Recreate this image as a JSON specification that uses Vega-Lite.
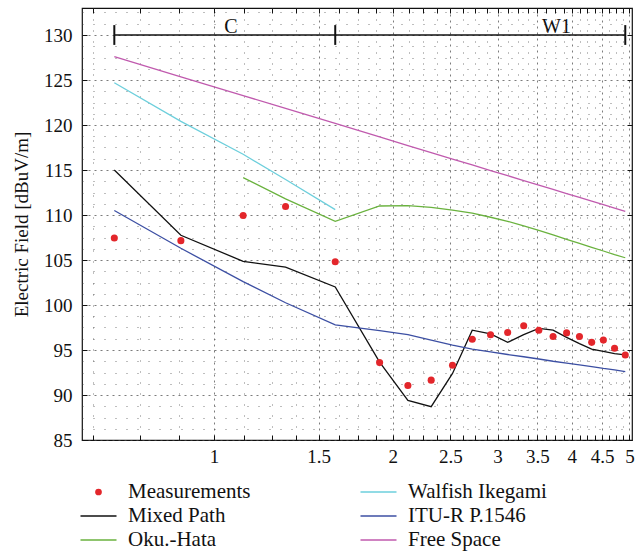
{
  "$schema": "https://vega.github.io/schema/vega-lite/v6.json",
  "width": 550,
  "height": 432,
  "autosize": {"type": "none"},
  "padding": {"left": 82, "top": 8, "right": 12, "bottom": 112},
  "background": "white",
  "datasets": {
    "bar": [{"x": 0.68, "x2": 4.92, "y": 130}],
    "caps": [{"x": 0.68, "y": 128.9, "y2": 131.1}, {"x": 1.6, "y": 128.9, "y2": 131.1}, {"x": 4.92, "y": 128.9, "y2": 131.1}],
    "zones": [{"x": 1.068, "y": 130.25, "t": "C"}, {"x": 3.77, "y": 130.25, "t": "W1"}],
    "d": [
      {"s": "Measurements", "x": 0.68, "y": 107.45},
      {"s": "Measurements", "x": 0.88, "y": 107.15},
      {"s": "Measurements", "x": 1.12, "y": 109.95},
      {"s": "Measurements", "x": 1.32, "y": 110.95},
      {"s": "Measurements", "x": 1.6, "y": 104.8},
      {"s": "Measurements", "x": 1.9, "y": 93.6},
      {"s": "Measurements", "x": 2.12, "y": 91.05},
      {"s": "Measurements", "x": 2.32, "y": 91.65},
      {"s": "Measurements", "x": 2.52, "y": 93.3},
      {"s": "Measurements", "x": 2.72, "y": 96.2},
      {"s": "Measurements", "x": 2.92, "y": 96.7},
      {"s": "Measurements", "x": 3.12, "y": 96.95},
      {"s": "Measurements", "x": 3.32, "y": 97.7},
      {"s": "Measurements", "x": 3.52, "y": 97.2},
      {"s": "Measurements", "x": 3.72, "y": 96.5},
      {"s": "Measurements", "x": 3.92, "y": 96.9},
      {"s": "Measurements", "x": 4.12, "y": 96.5},
      {"s": "Measurements", "x": 4.32, "y": 95.85},
      {"s": "Measurements", "x": 4.52, "y": 96.1},
      {"s": "Measurements", "x": 4.72, "y": 95.2},
      {"s": "Measurements", "x": 4.92, "y": 94.45},
      {"s": "Mixed Path", "x": 0.68, "y": 115.0},
      {"s": "Mixed Path", "x": 0.88, "y": 107.75},
      {"s": "Mixed Path", "x": 1.12, "y": 104.85},
      {"s": "Mixed Path", "x": 1.32, "y": 104.2},
      {"s": "Mixed Path", "x": 1.6, "y": 102.0},
      {"s": "Mixed Path", "x": 1.9, "y": 93.65},
      {"s": "Mixed Path", "x": 2.12, "y": 89.4},
      {"s": "Mixed Path", "x": 2.32, "y": 88.7},
      {"s": "Mixed Path", "x": 2.52, "y": 92.4},
      {"s": "Mixed Path", "x": 2.72, "y": 97.2},
      {"s": "Mixed Path", "x": 2.92, "y": 96.8},
      {"s": "Mixed Path", "x": 3.12, "y": 95.85},
      {"s": "Mixed Path", "x": 3.32, "y": 96.7},
      {"s": "Mixed Path", "x": 3.52, "y": 97.4},
      {"s": "Mixed Path", "x": 3.72, "y": 97.2},
      {"s": "Mixed Path", "x": 3.92, "y": 96.4},
      {"s": "Mixed Path", "x": 4.12, "y": 95.7},
      {"s": "Mixed Path", "x": 4.32, "y": 95.1},
      {"s": "Mixed Path", "x": 4.52, "y": 94.85},
      {"s": "Mixed Path", "x": 4.72, "y": 94.6},
      {"s": "Mixed Path", "x": 4.92, "y": 94.45},
      {"s": "ITU-R P.1546", "x": 0.68, "y": 110.5},
      {"s": "ITU-R P.1546", "x": 0.88, "y": 106.3},
      {"s": "ITU-R P.1546", "x": 1.12, "y": 102.6},
      {"s": "ITU-R P.1546", "x": 1.32, "y": 100.25},
      {"s": "ITU-R P.1546", "x": 1.6, "y": 97.8},
      {"s": "ITU-R P.1546", "x": 1.9, "y": 97.15},
      {"s": "ITU-R P.1546", "x": 2.12, "y": 96.7},
      {"s": "ITU-R P.1546", "x": 2.32, "y": 96.1},
      {"s": "ITU-R P.1546", "x": 2.52, "y": 95.55},
      {"s": "ITU-R P.1546", "x": 2.72, "y": 95.1},
      {"s": "ITU-R P.1546", "x": 2.92, "y": 94.8},
      {"s": "ITU-R P.1546", "x": 3.12, "y": 94.5},
      {"s": "ITU-R P.1546", "x": 3.32, "y": 94.25},
      {"s": "ITU-R P.1546", "x": 3.52, "y": 94.0},
      {"s": "ITU-R P.1546", "x": 3.72, "y": 93.75},
      {"s": "ITU-R P.1546", "x": 3.92, "y": 93.55},
      {"s": "ITU-R P.1546", "x": 4.12, "y": 93.35},
      {"s": "ITU-R P.1546", "x": 4.32, "y": 93.15},
      {"s": "ITU-R P.1546", "x": 4.52, "y": 92.95},
      {"s": "ITU-R P.1546", "x": 4.72, "y": 92.8},
      {"s": "ITU-R P.1546", "x": 4.92, "y": 92.6},
      {"s": "Oku.-Hata", "x": 1.12, "y": 114.15},
      {"s": "Oku.-Hata", "x": 1.32, "y": 111.8},
      {"s": "Oku.-Hata", "x": 1.6, "y": 109.3},
      {"s": "Oku.-Hata", "x": 1.9, "y": 111.0},
      {"s": "Oku.-Hata", "x": 2.12, "y": 111.05},
      {"s": "Oku.-Hata", "x": 2.32, "y": 110.85},
      {"s": "Oku.-Hata", "x": 2.52, "y": 110.55},
      {"s": "Oku.-Hata", "x": 2.72, "y": 110.2},
      {"s": "Oku.-Hata", "x": 2.92, "y": 109.75},
      {"s": "Oku.-Hata", "x": 3.12, "y": 109.3},
      {"s": "Oku.-Hata", "x": 3.32, "y": 108.8},
      {"s": "Oku.-Hata", "x": 3.52, "y": 108.3},
      {"s": "Oku.-Hata", "x": 3.72, "y": 107.8},
      {"s": "Oku.-Hata", "x": 3.92, "y": 107.3},
      {"s": "Oku.-Hata", "x": 4.12, "y": 106.85},
      {"s": "Oku.-Hata", "x": 4.32, "y": 106.4},
      {"s": "Oku.-Hata", "x": 4.52, "y": 106.0},
      {"s": "Oku.-Hata", "x": 4.72, "y": 105.6},
      {"s": "Oku.-Hata", "x": 4.92, "y": 105.25},
      {"s": "Walfish Ikegami", "x": 0.68, "y": 124.7},
      {"s": "Walfish Ikegami", "x": 0.88, "y": 120.4},
      {"s": "Walfish Ikegami", "x": 1.12, "y": 116.75},
      {"s": "Walfish Ikegami", "x": 1.32, "y": 113.95},
      {"s": "Walfish Ikegami", "x": 1.6, "y": 110.6},
      {"s": "Free Space", "x": 0.68, "y": 127.6},
      {"s": "Free Space", "x": 0.88, "y": 125.36},
      {"s": "Free Space", "x": 1.12, "y": 123.27},
      {"s": "Free Space", "x": 1.32, "y": 121.84},
      {"s": "Free Space", "x": 1.6, "y": 120.17},
      {"s": "Free Space", "x": 1.9, "y": 118.68},
      {"s": "Free Space", "x": 2.12, "y": 117.72},
      {"s": "Free Space", "x": 2.32, "y": 116.94},
      {"s": "Free Space", "x": 2.52, "y": 116.22},
      {"s": "Free Space", "x": 2.72, "y": 115.56},
      {"s": "Free Space", "x": 2.92, "y": 114.94},
      {"s": "Free Space", "x": 3.12, "y": 114.37},
      {"s": "Free Space", "x": 3.32, "y": 113.83},
      {"s": "Free Space", "x": 3.52, "y": 113.32},
      {"s": "Free Space", "x": 3.72, "y": 112.84},
      {"s": "Free Space", "x": 3.92, "y": 112.38},
      {"s": "Free Space", "x": 4.12, "y": 111.95},
      {"s": "Free Space", "x": 4.32, "y": 111.54},
      {"s": "Free Space", "x": 4.52, "y": 111.15},
      {"s": "Free Space", "x": 4.72, "y": 110.77},
      {"s": "Free Space", "x": 4.92, "y": 110.41}
    ]
  },
  "layer": [
    {
      "data": {"name": "bar"},
      "mark": {"type": "rule", "color": "#111111", "strokeWidth": 1.3},
      "encoding": {
        "x": {"field": "x", "type": "quantitative", "axis": null},
        "x2": {"field": "x2"},
        "y": {"field": "y", "type": "quantitative", "axis": null}
      }
    },
    {
      "data": {"name": "caps"},
      "mark": {"type": "rule", "color": "#111111", "strokeWidth": 2},
      "encoding": {
        "x": {"field": "x", "type": "quantitative", "axis": null},
        "y": {"field": "y", "type": "quantitative", "axis": null},
        "y2": {"field": "y2"}
      }
    },
    {
      "data": {"name": "zones"},
      "mark": {"type": "text", "font": "'Liberation Serif', 'DejaVu Serif', serif", "fontSize": 20, "color": "#111111", "align": "center", "baseline": "alphabetic"},
      "encoding": {
        "x": {"field": "x", "type": "quantitative", "axis": null},
        "y": {"field": "y", "type": "quantitative", "axis": null},
        "text": {"field": "t"}
      }
    },
    {
      "data": {"name": "d"},
      "transform": [{"filter": "datum.s !== 'Measurements'"}],
      "mark": {"type": "line", "strokeWidth": 1.3},
      "encoding": {
        "x": {
          "field": "x", "type": "quantitative",
          "scale": {"type": "log", "domain": [0.6, 5.05], "nice": false},
          "axis": {
            "orient": "bottom",
            "values": [0.625, 0.75, 0.875, 1, 1.125, 1.25, 1.375, 1.5, 1.625, 1.75, 1.875, 2, 2.125, 2.25, 2.375, 2.5, 2.625, 2.75, 2.875, 3, 3.125, 3.25, 3.375, 3.5, 3.625, 3.75, 3.875, 4, 4.125, 4.25, 4.375, 4.5, 4.625, 4.75, 4.875, 5],
            "format": "~g",
            "labelExpr": "datum.value >= 1 && (datum.value * 2) % 1 === 0 ? datum.label : ''",
            "labelOverlap": false,
            "labelFlush": false,
            "labelFont": "'Liberation Serif', 'DejaVu Serif', serif",
            "labelFontSize": 19,
            "labelColor": "#111111",
            "labelPadding": 12,
            "tickSize": -5,
            "tickColor": "#111111",
            "domain": false,
            "title": null,
            "grid": true,
            "gridColor": "#444444",
            "gridOpacity": 0.7,
            "gridDash": {"condition": {"test": "datum.value >= 1 && (datum.value * 2) % 1 === 0", "value": [2, 4]}, "value": [1, 10]}
          }
        },
        "y": {
          "field": "y", "type": "quantitative",
          "scale": {"domain": [85, 133], "nice": false, "zero": false},
          "axis": {
            "orient": "left",
            "values": [85, 86.25, 87.5, 88.75, 90, 91.25, 92.5, 93.75, 95, 96.25, 97.5, 98.75, 100, 101.25, 102.5, 103.75, 105, 106.25, 107.5, 108.75, 110, 111.25, 112.5, 113.75, 115, 116.25, 117.5, 118.75, 120, 121.25, 122.5, 123.75, 125, 126.25, 127.5, 128.75, 130, 131.25, 132.5],
            "labelExpr": "datum.value % 5 === 0 ? datum.label : ''",
            "labelFont": "'Liberation Serif', 'DejaVu Serif', serif",
            "labelFontSize": 19,
            "labelColor": "#111111",
            "labelPadding": 15,
            "tickSize": {"condition": {"test": "datum.value % 5 === 0", "value": -5}, "value": 0},
            "tickColor": "#111111",
            "domain": false,
            "title": "Electric Field [dBuV/m]",
            "titleFont": "'Liberation Serif', 'DejaVu Serif', serif",
            "titleFontSize": 19,
            "titleFontWeight": "normal",
            "titleColor": "#111111",
            "titlePadding": 12,
            "grid": true,
            "gridColor": "#444444",
            "gridOpacity": 0.7,
            "gridDash": {"condition": {"test": "datum.value % 5 === 0", "value": [2, 4]}, "value": [1, 10]}
          }
        },
        "color": {
          "field": "s", "type": "nominal",
          "scale": {
            "domain": ["Measurements", "Mixed Path", "Oku.-Hata", "Walfish Ikegami", "ITU-R P.1546", "Free Space"],
            "range": ["#e3262b", "#111111", "#6ab23e", "#6dcfdc", "#3c4fa3", "#c05aae"]
          },
          "legend": {
            "orient": "none",
            "legendX": -2,
            "legendY": 474,
            "columns": 2,
            "title": null,
            "padding": 0,
            "symbolType": "stroke",
            "symbolSize": 1296,
            "symbolStrokeWidth": 1.5,
            "symbolOffset": 8,
            "clipHeight": 20,
            "rowPadding": 3,
            "columnPadding": 109,
            "labelOffset": 19,
            "labelFont": "'Liberation Serif', 'DejaVu Serif', serif",
            "labelFontSize": 21,
            "labelColor": "#111111",
            "labelLimit": 400,
            "encode": {
              "symbols": {
                "update": {
                  "shape": {"signal": "datum.value === 'Measurements' ? 'circle' : 'stroke'"},
                  "size": {"signal": "datum.value === 'Measurements' ? 45 : 1296"},
                  "fill": {"signal": "datum.value === 'Measurements' ? '#e3262b' : 'transparent'"},
                  "strokeWidth": {"signal": "datum.value === 'Measurements' ? 0 : 1.5"}
                }
              }
            }
          }
        }
      }
    },
    {
      "data": {"name": "d"},
      "transform": [{"filter": "datum.s === 'Measurements'"}],
      "mark": {"type": "point", "filled": true, "shape": "circle", "size": 50, "color": "#e3262b", "opacity": 1},
      "encoding": {
        "x": {
          "field": "x", "type": "quantitative",
          "axis": {
            "orient": "top",
            "values": [0.625, 0.75, 0.875, 1, 1.125, 1.25, 1.375, 1.5, 1.625, 1.75, 1.875, 2, 2.125, 2.25, 2.375, 2.5, 2.625, 2.75, 2.875, 3, 3.125, 3.25, 3.375, 3.5, 3.625, 3.75, 3.875, 4, 4.125, 4.25, 4.375, 4.5, 4.625, 4.75, 4.875, 5],
            "labels": false,
            "tickSize": -5,
            "tickColor": "#111111",
            "domain": false,
            "grid": false,
            "title": null
          }
        },
        "y": {
          "field": "y", "type": "quantitative",
          "axis": {
            "orient": "right",
            "values": [85, 90, 95, 100, 105, 110, 115, 120, 125, 130],
            "labels": false,
            "tickSize": -5,
            "tickColor": "#111111",
            "domain": false,
            "grid": false,
            "title": null
          }
        }
      }
    }
  ],
  "config": {
    "view": {"stroke": "#111111", "strokeWidth": 1.2},
    "font": "'Liberation Serif', 'DejaVu Serif', serif"
  }
}
